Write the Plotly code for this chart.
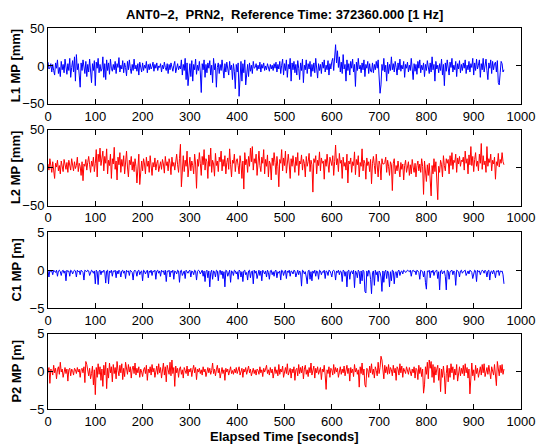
import plotly.graph_objects as go

# Elapsed time samples [s] (every 2nd epoch of the 1 Hz record)
elapsed = list(range(0, 966, 2))

# L1 multipath [mm]
L1_mp = [
 5, -4, -2, 3, -8, 2, -6, -12, 4, -3, 8, -10, -2, -14, 6, -5, 2, -9, 9, -4,
 -11, 3, -6, 10, -15, -2, 7, -8, 12, -20, 15, -5, 3, -12, -28, 4, -6, 8, -3, -10,
 6, -14, 2, -8, 9, -5, -22, 3, -6, 7, -26, 5, -3, 10, -9, 2, -7, -4, 12, -15,
 3, -18, 8, -6, 4, -11, 9, -3, -7, 2, -5, 6, -10, 3, -2, 11, -8, 1, -4, 7,
 -9, 4, -2, -13, 6, -5, 8, -3, -10, 2, -6, 9, -4, 1, -7, 3, -12, 5, -2, -8,
 4, -6, 1, -3, 6, -9, 2, -5, 3, -4, -1, 5, -7, 2, -3, 4, -6, 0, -2, 3,
 -8, 1, -4, 5, -2, -6, 3, -10, 2, -5, 4, -3, -7, 1, 6, -9, -2, 3, -5, 0,
 -4, 8, -12, 2, -6, 10, -18, 4, -26, -8, 3, -14, 7, -20, 2, -5, 9, -11, 1, -6,
 6, -8, -35, 3, -5, 8, -15, 2, -9, 4, -3, 7, -12, 1, -22, 10, -5, 3, -28, -2,
 4, -10, 2, -6, 8, -4, -16, 3, -8, 5, -2, -12, 6, -5, 1, -18, 3, -7, -30, 2,
 -8, 4, -40, -12, 6, -20, 3, -9, 8, -25, -5, 2, -14, 4, -7, 1, -10, 6, -3, -2,
 3, -6, 1, -4, 5, -8, 2, -3, 4, -6, 0, -5, 3, -2, -7, 2, -4, 1, -6, 3,
 -3, 5, -8, 2, -4, 6, -10, 1, 9, -12, 3, -6, 8, -15, 2, -4, 10, -20, 4, -5,
 6, -9, 2, -12, 7, -3, -18, 4, -6, 9, -22, 1, -5, 8, -10, 3, -4, 6, -14, 2,
 -7, 4, -9, 10, -4, -16, 3, -6, 2, -10, 5, -3, 8, -8, 1, -5, 7, -12, 3, -4,
 6, 10, -6, 18, 28, 4, 20, -2, 12, -8, 5, -10, 15, -4, 2, -20, 8, -6, 3, -12,
 6, -3, 9, -8, 2, -27, 5, -6, 10, -4, 1, -9, 4, -5, 8, -14, 2, -3, 6, -10,
 3, -7, -8, 4, -9, 2, -5, 6, -3, 8, -12, -36, -25, 2, -6, 10, -8, 1, -20, 5,
 -10, 2, -6, 12, -5, 3, -8, 6, -2, -12, 4, -5, 9, -7, 1, -4, 6, -15, 2, -3,
 5, -8, 1, -6, 10, -4, -18, 3, -7, 2, -11, 6, -3, 8, -9, 1, -5, 4, -14, 2,
 -6, 7, -3, -10, 4, -8, 12, -5, 2, -20, 6, -4, 1, -9, 3, -6, 9, -12, 2, -26,
 4, -7, 8, -3, -12, 5, -2, 10, -8, 1, -5, 6, -14, 3, -4, 7, -9, 2, -6, 4,
 -3, 8, -10, 1, -5, 6, -8, 3, -2, 10, -12, 4, -6, 9, -4, 1, 8, -15, 3, -5,
 10, -8, 2, 9, -6, -18, 4, -3, 8, -10, 6, -5, 3, 5, -8, 7, -22, -25, -9, 6,
 3, -8, -5,
]

# L2 multipath [mm]
L2_mp = [
 5, -3, 12, 2, -6, 8, -2, -14, 6, 1, 10, -4, 3, -8, 9, 2, -5, 11, 4, -2,
 7, -6, 10, 1, -3, 12, 5, -4, 8, -1, 3, 14, -5, 6, 2, -10, 8, -17, 5, 2,
 11, -3, 7, 15, 4, -6, 9, 2, 14, -5, 6, 24, -12, 18, 8, 26, 3, 12, 22, -4,
 15, 6, 25, -8, 10, 3, 18, -14, 12, 5, 27, -2, 9, -16, 14, 4, 20, -6, 11, 2,
 16, -8, 7, 22, 1, -12, 10, 4, 15, -3, 8, -5, 12, 2, -20, 6, 18, -22, 3, 9,
 -4, 12, 5, -8, 14, 2, 9, -6, 16, 3, -10, 7, 1, 13, -3, 6, 10, -5, 4, 8,
 -2, 11, 5, -7, 15, 3, 8, -4, 12, 6, -9, 14, 2, 7, -3, 10, 18, 4, -6, 12,
 31, -25, 8, 16, -5, 10, 2, 22, -12, 7, 14, -4, 9, 3, -8, 18, 5, -27, 11, 2,
 20, 6, -10, 15, 4, 24, -3, 12, 8, -14, 17, 2, 26, -6, 10, 5, -11, 19, 3, 9,
 -5, 14, 8, 22, -4, 11, 2, 16, -8, 7, 13, -2, 25, 4, -12, 10, 6, 18, -5, 9,
 12, 3, -8, 16, 6, -14, 9, -28, 20, 4, 11, -6, 15, 2, 26, 8, 28, -3, 12, 6,
 18, -10, 8, 22, 3, -5, 14, 6, 24, -8, 11, 2, 17, -12, 9, 5, -16, 13, 3, 20,
 7, -9, 15, 2, -25, 11, 6, 24, -4, 13, 3, 22, -7, 10, 18, 5, -14, 12, 2, 16,
 8, -6, 14, 3, 20, -10, 9, 5, 17, -3, 11, 6, -12, 15, 2, 8, 19, -5, 10, 4,
 -32, 12, 7, 16, -8, 10, 3, 21, -4, 13, 6, 9, -15, 11, 2, 18, 5, -6, 14, 7,
 3, 16, -10, 8, 30, 4, 12, -5, 19, 6, 10, -14, 14, 2, 7, -3, 18, -20, 9, 5,
 13, -6, 8, 3, 21, -9, 11, 4, 16, -12, 7, 2, 25, -4, 10, 6, -15, 13, 3, 8,
 -5, 11, -21, 6, 15, 3, -8, 18, 2, -12, 9, 4, -16, 12, 5, 5, 7, 14, -6, 10,
 2, -10, 8, 4, -30, 6, 12, -8, 3, -4, 9, 1, -12, 7, -2, 5, -16, 3, 10, -6,
 2, 8, -10, 4, -8, 11, 1, -6, 6, -12, 3, 9, -4, 5, -6, 12, 2, -35, 9, -8,
 -18, 4, -10, 6, -14, -37, 3, -8, 12, -5, 8, -16, -42, 2, -6, 10, 4, -12, 16, 3,
 -4, 12, 6, 11, -8, 16, 3, 20, -2, 10, 7, 18, -6, 13, 5, 15, 2, 10, 8, 14,
 -3, 22, 6, 12, -8, 17, 4, 28, 3, 15, -5, 11, 20, 2, 9, -4, 18, 6, 32, -2,
 16, 4, 9, -6, 28, 2, 12, 7, 18, -4, 10, 5, 14, -15, 8, 3, 19, 1, 11, 6,
 20, 8, 4,
]

# C1 code multipath [dm]
C1_mp_dm = [
 -1, -9, 0, -2, -1, -6, 0, -1, -3, 0, -8, -1, 0, -2, -7, -1, 0, -4, -1, -14,
 0, -2, -1, -8, 0, -1, -5, -2, 0, -1, -9, 0, -2, -1, -6, 0, -1, -3, -13, 0,
 -1, -2, 0, -1, -7, -2, 0, -1, -4, -1, -18, 0, -2, -19, -1, 0, -6, -1, -3, 0,
 -2, -17, -1, 0, -18, -1, -3, 0, -8, -1, -2, 0, -10, -1, -5, 0, -2, -9, -1, 0,
 -4, -1, -11, 0, -2, -1, -7, 0, -1, -3, -13, -1, 0, -2, -8, -1, 0, -6, -2, -1,
 -14, 0, -1, -5, -2, 0, -10, -1, -3, 0, -7, -1, -2, 0, -12, -1, 0, -4, -1, -8,
 0, -2, -1, -6, 0, -15, -1, -2, 0, -9, -1, -3, 0, -12, -1, -2, -5, 0, -1, -16,
 -1, 0, -7, -2, -1, -11, 0, -2, -4, -1, 0, -9, -1, -2, -6, 0, -1, -13, -2, 0,
 -1, -5, -2, 0, -8, -1, -15, -2, 0, -10, -1, -22, -3, 0, -12, -1, -2, -9, 0, -1,
 -14, -2, 0, -6, -1, -11, -2, -22, 0, -1, -8, -3, 0, -16, -1, -2, -7, 0, -1, -5,
 -2, -12, 0, -1, -9, -2, -15, -1, 0, -6, -3, -13, -1, 0, -10, -2, -1, -18, 0, -4,
 -1, -11, -2, 0, -7, -1, -14, 0, -2, -5, -1, -9, 0, -3, -12, -1, 0, -6, -2, -8,
 -1, 0, -10, -2, -4, -1, -13, 0, -1, -7, -2, 0, -11, -1, -3, 0, -8, -1, -2, -5,
 0, -1, -9, -2, 0, -6, -1, -3, -21, 0, -1, -5, -2, -9, -18, -1, 0, -12, -2, -14,
 -1, -4, 0, -8, -1, -2, -12, 0, -1, -6, -2, -3, 0, -11, -1, -2, -7, 0, -1, -4,
 -9, -1, 0, -2, -13, -1, -3, 0, -6, -1, -2, -15, 0, -1, -8, -2, -22, -1, 0, -12,
 -2, -1, -5, 0, -23, -1, -3, -10, 0, -2, -18, -1, -14, 0, -2, -28, -30, -1, -8, 0,
 -2, -12, -31, -3, -1, -20, 0, -6, -2, -15, -1, -3, -9, -28, -1, -16, -2, 0, -11, -1,
 -4, -22, -2, -14, 0, -1, -18, -3, -2, -10, -1, 0, -7, -2, -1, -5, 0, -1, -3, -2,
 0, -1, -2, 0, -8, -1, 0, -2, -1, -6, 0, -1, -3, -12, 0, -1, -2, -9, -1, -16,
 -25, -1, -2, 0, -10, -1, -3, 0, -7, -2, -1, 0, -11, -2, -26, -1, 0, -5, -2, -1,
 -8, -26, 0, -1, -12, -2, -1, 0, -6, -1, -3, -20, 0, -1, -2, -9, -1, 0, -4, -2,
 -1, 0, -7, -2, -1, -5, 0, -1, -3, -11, -2, 0, -1, -15, 0, -2, -1, -6, -2, 0,
 -1, -4, 0, -2, -9, -1, 0, -13, -2, -1, -5, 0, -3, -10, -1, -2, 0, -7, -1, -2,
 -1, -6, -18,
]

# P2 code multipath [dm]
P2_mp_dm = [
 -2, 5, -16, 3, 1, -5, 8, -2, 4, -10, 2, 6, -4, 12, -1, 3, -8, 2, 5, -3,
 3, -13, 2, 4, -6, 3, 1, -5, 4, 2, -3, 5, -1, 3, -8, 2, 4, -2, 6, -15,
 13, 9, 2, -6, 4, -10, -3, 7, -18, 2, -31, 5, -8, 10, -4, 6, -12, 3, -20, 8,
 -5, 12, -23, 4, -9, 11, -2, 6, -14, 9, -3, 5, -10, 13, 1, -6, 8, -2, 10, -11,
 4, -7, 12, 2, -4, 9, -1, 6, -9, 3, 7, -3, 11, -5, 4, -2, 6, -8, 3, -1,
 -7, 2, 5, -3, 8, -12, 3, -2, 6, -5, 9, -1, 4, -8, 2, 7, -4, 10, -2, 5,
 -9, 3, 11, -5, 6, -14, 8, 2, -4, 12, -6, 15, -3, 5, -20, 7, -2, 4, -8, 3,
 6, -4, 2, -9, 5, 1, -3, 7, -6, 3, -1, 4, -7, 2, 8, -2, 5, -11, 3, -1,
 4, -3, 2, -5, 6, -1, 3, -7, 2, 5, -2, 4, -4, 1, 11, -3, 3, -6, 2, 8,
 -2, 4, -9, 1, 5, -3, 2, -12, 4, -1, 3, -5, 2, 6, -3, 1, -4, 3, -2, 5,
 -3, 2, 6, -5, 1, 4, -8, 3, -1, 5, -4, 2, 7, -2, 3, -6, 1, 4, -3, 2,
 -5, 3, 1, -4, 6, -2, 2, -7, 4, -1, 3, 8, -3, 2, -5, 5, -2, 3, -9, 1,
 6, -3, 2, -6, 9, -4, 3, -1, 7, -8, 2, 5, -3, 10, -5, 1, 4, -9, 3, -2,
 6, -12, 2, 4, -6, 9, -3, 5, -2, 7, -10, 3, 8, -4, 2, -7, 5, -2, 11, -5,
 3, 7, -9, 4, -2, 6, -4, 2, 5, -11, 3, -1, 8, -5, -24, 2, -3, 6, -8, 4,
 2, -5, 9, -3, 5, -1, 4, -8, 2, 6, -4, 3, -2, 7, -6, 1, 8, -3, 4, -13,
 5, -2, 3, -7, 9, -1, 4, -4, 2, -21, 6, -3, 11, -5, 3, -18, -21, 4, 2, -8,
 7, -2, 10, -4, 3, -9, 6, 1, -6, 12, -3, 5, 20, 15, 4, -10, 8, -2, 6, -4,
 9, -3, 5, 2, -6, 8, -2, 4, -12, 6, 3, -5, 10, -2, 7, -8, 4, 1, -3, 6,
 2, -4, 5, 1, -6, 3, -2, 6, -9, 4, 2, -11, 8, -3, 5, -7, 3, -29, -18, 6,
 -4, 12, -10, 15, 4, 13, -8, 9, -15, 6, -5, 3, 8, -12, 4, -27, 3, -8, 7, -6,
 -30, -3, 8, -14, 4, -8, 10, -2, 6, -11, 3, -5, 9, -13, 2, 6, -6, 4, -3, 8,
 -6, 10, -2, 5, -9, 3, -30, -4, 11, -6, 2, -12, 8, -3, 4, -8, 1, 6, -5, 9,
 -2, 10, -7, 3, 5, -4, 8, -1, -10, 6, 2, -5, 9, -3, -19, 13, 4, -6, 8, -2,
 9, -4, 3,
]

C1_mp = [v / 10 for v in C1_mp_dm]
P2_mp = [v / 10 for v in P2_mp_dm]

x_ticks = list(range(0, 1001, 100))
panels = [
    ("L1 MP [mm]", L1_mp, "#0000FF", [-50, 50], [-50, 0, 50]),
    ("L2 MP [mm]", L2_mp, "#FF0000", [-50, 50], [-50, 0, 50]),
    ("C1 MP [m]", C1_mp, "#0000FF", [-5, 5], [-5, 0, 5]),
    ("P2 MP [m]", P2_mp, "#FF0000", [-5, 5], [-5, 0, 5]),
]

# pixel layout
W, H = 547, 445
L, R, T, B = 47.5, 532.5, 28, 409.5
boxes = [(28, 104), (130, 206), (232.5, 308.5), (334, 409.5)]

def fy(py):
    return (B - py) / (B - T)

fig = go.Figure()
font = "Liberation Sans, Arial, Helvetica, sans-serif"
annotations = []
for i, (label, vals, color, yr, yt) in enumerate(panels):
    n = i + 1
    xa = "x" if n == 1 else f"x{n}"
    ya = "y" if n == 1 else f"y{n}"
    fig.add_trace(go.Scatter(x=elapsed, y=vals, mode="lines",
                             line=dict(color=color, width=1),
                             xaxis=xa, yaxis=ya, showlegend=False,
                             hoverinfo="skip"))
    top, bot = boxes[i]
    axkw = dict(showline=True, linecolor="black", linewidth=1, mirror="ticks",
                ticks="inside", ticklen=5, tickcolor="black", tickwidth=1,
                showgrid=False, zeroline=False,
                tickfont=dict(family=font, size=13, color="black"))
    fig.layout[f"xaxis{'' if n == 1 else n}"] = dict(
        domain=[0, 1], range=[0, 1000], tickvals=x_ticks,
        anchor=ya, **axkw)
    fig.layout[f"yaxis{'' if n == 1 else n}"] = dict(
        domain=[fy(bot), fy(top)], range=yr, tickvals=yt,
        anchor=xa, **axkw)
    annotations.append(dict(
        text=f"<b>{label}</b>", textangle=-90, showarrow=False,
        xref="paper", yref="paper",
        x=(15 - L) / (R - L), y=fy((top + bot) / 2),
        xanchor="center", yanchor="middle",
        font=dict(family=font, size=13, color="black")))

annotations.append(dict(
    text="<b>ANT0\u22122,  PRN2,  Reference Time: 372360.000 [1 Hz]</b>",
    showarrow=False, xref="paper", yref="paper",
    x=0.5, y=fy(14), xanchor="center", yanchor="middle",
    font=dict(family=font, size=13, color="black")))
annotations.append(dict(
    text="<b>Elapsed Time [seconds]</b>",
    showarrow=False, xref="paper", yref="paper",
    x=0.5, y=fy(437), xanchor="center", yanchor="middle",
    font=dict(family=font, size=13, color="black")))

fig.update_layout(
    width=W, height=H,
    margin=dict(l=L, r=W - R, t=T, b=H - B, pad=0),
    paper_bgcolor="white", plot_bgcolor="white",
    annotations=annotations,
)

fig.write_html("out.html", include_plotlyjs=True, full_html=True,
               config={"displayModeBar": False})
